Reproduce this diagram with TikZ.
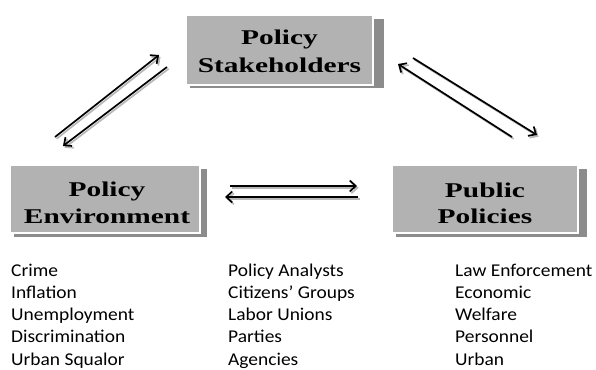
\documentclass[tikz,border=0pt]{standalone}
\usepackage{fontspec}
\usetikzlibrary{arrows.meta}
\newfontfamily\boxfont[FakeStretch=1.4]{Liberation Serif}
\newfontfamily\listfont[FakeStretch=1.08]{Carlito}
\definecolor{boxfill}{gray}{0.70}
\definecolor{boxshadow}{gray}{0.55}
\definecolor{arrshadow}{gray}{0.72}
\tikzset{
  pbox/.style={fill=boxfill, draw=white, line width=1.2pt, inner sep=0pt,
    align=center, font=\boxfont\bfseries\fontsize{21}{27}\selectfont},
  boxtext/.style={inner sep=0pt, align=center, font=\boxfont\bfseries\fontsize{21}{27}\selectfont},
  item/.style={anchor=base west, inner sep=0pt, font=\listfont\fontsize{18}{22}\selectfont},
  arr/.style={line width=1.7pt, -{Straight Barb[length=6pt,width=11pt]},
    preaction={draw=arrshadow, line width=1.7pt, transform canvas={shift={(1.6pt,-1.8pt)}}}}
}
\begin{document}
\begin{tikzpicture}[x=1pt,y=-1pt]
\useasboundingbox (0,0) rectangle (596,369);
% shadows
\fill[boxshadow] (190,19) rectangle (384,88);
\fill[boxshadow] (14,169) rectangle (207,237);
\fill[boxshadow] (396,169) rectangle (587,237);
% boxes
\node[pbox, minimum width=187pt, minimum height=70pt] (stake) at (279.5,50) {};
\node[pbox, minimum width=190pt, minimum height=68pt] (env) at (105,199) {};
\node[pbox, minimum width=186pt, minimum height=68pt] (pub) at (485,199) {};
\node[boxtext, anchor=base] (stake1) at (279.5,45) {Policy};
\node[boxtext, anchor=base] (stake2) at (279.5,72) {Stakeholders};
\node[boxtext, anchor=base] (env1) at (107,196) {Policy};
\node[boxtext, anchor=base] (env2) at (107,223) {Environment};
\node[boxtext, anchor=base] (pub1) at (485,197) {Public};
\node[boxtext, anchor=base] (pub2) at (485,223) {Policies};
% arrow end points
\coordinate (a1s) at (55,137); \coordinate (a1e) at (159,55);
\coordinate (a2s) at (167,67); \coordinate (a2e) at (63,146);
\coordinate (b1s) at (413,58); \coordinate (b1e) at (537,135);
\coordinate (b2s) at (512,137); \coordinate (b2e) at (398,64);
\coordinate (h1s) at (230,186); \coordinate (h1e) at (357,186);
\coordinate (h2s) at (358,197); \coordinate (h2e) at (225,197);
\draw[arr] (a1s) -- (a1e);
\draw[arr] (a2s) -- (a2e);
\draw[arr] (b1s) -- (b1e);
\draw[arr] (b2s) -- (b2e);
\draw[arr] (h1s) -- (h1e);
\draw[arr] (h2s) -- (h2e);
% lists
\foreach \t [count=\i] in {Crime, Inflation, Unemployment, Discrimination, Urban Squalor}
  \node[item] (l\i) at (11, 254+22.2*\i) {\t};
\foreach \t [count=\i] in {Policy Analysts, Citizens’ Groups, Labor Unions, Parties, Agencies}
  \node[item] (m\i) at (228, 254+22.2*\i) {\t};
\foreach \t [count=\i] in {Law Enforcement, Economic, Welfare, Personnel, Urban}
  \node[item] (r\i) at (455, 254+22.2*\i) {\t};
\end{tikzpicture}
\end{document}
